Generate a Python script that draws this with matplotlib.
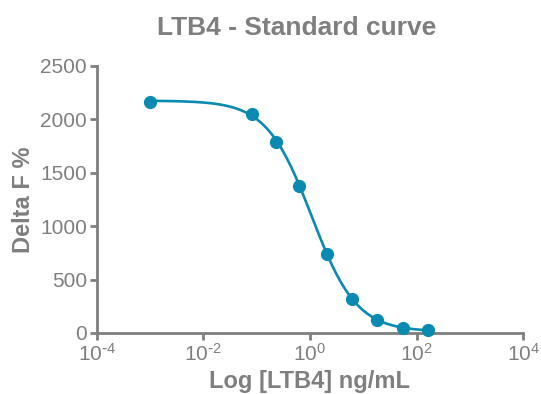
import numpy as np
import matplotlib
matplotlib.use("Agg")
import matplotlib.pyplot as plt

plt.rcParams['font.family'] = ['Liberation Sans', 'DejaVu Sans']
plt.rcParams['mathtext.default'] = 'regular'
plt.rcParams['axes.unicode_minus'] = False

# concentrations (ng/mL) and signal
conc = [0.001, 0.083, 0.234, 0.63, 2.1, 6.2, 18, 56, 165]
delta_f = [2165, 2050, 1790, 1380, 740, 318, 122, 47, 28]
xtick_exp = [-4, -2, 0, 2, 4]
yticks = [0, 500, 1000, 1500, 2000, 2500]

teal = '#0b8ab1'
grey = '#7f7f7f'

# 4-parameter logistic fit (simple Levenberg-Marquardt in numpy)
xd = np.log10(np.array(conc, dtype=float))
yd = np.array(delta_f, dtype=float)


def model(p, lx):
    top, bot, lec, h = p
    return bot + (top - bot) / (1 + 10 ** (h * (lx - lec)))


p = np.array([yd.max(), yd.min(), 0.0, 1.0])
lam = 1e-2
for _ in range(500):
    r = yd - model(p, xd)
    J = np.zeros((len(xd), 4))
    for k in range(4):
        dp = np.zeros(4)
        dp[k] = 1e-6 * max(1.0, abs(p[k]))
        J[:, k] = (model(p + dp, xd) - model(p, xd)) / dp[k]
    A = J.T @ J
    step = np.linalg.solve(A + lam * np.diag(np.diag(A)), J.T @ r)
    pn = p + step
    if np.sum((yd - model(pn, xd)) ** 2) < np.sum(r ** 2):
        p = pn
        lam *= 0.5
    else:
        lam *= 4

lx = np.linspace(xd.min(), xd.max(), 300)
fit = model(p, lx)

fig = plt.figure(figsize=(5.41, 3.94), dpi=100)
ax = fig.add_axes([0.179, 0.155, 0.788, 0.6775])

ax.plot(10 ** lx, fit, color=teal, lw=1.9, zorder=2)
ax.plot(conc, delta_f, 'o', color=teal, ms=8.5, zorder=3, clip_on=False)

ax.set_xscale('log')
ax.set_xlim(1e-4, 1e4)
ax.set_ylim(0, 2500)
ax.set_xticks([10.0 ** e for e in xtick_exp])


def sup_label(e):
    if e < 0:
        return r'$\mathregular{10^{\text{-}%d}}$' % (-e)
    return r'$\mathregular{10^{%d}}$' % e


ax.set_xticklabels([sup_label(e) for e in xtick_exp])
ax.minorticks_off()
ax.set_yticks(yticks)

for s in ['top', 'right']:
    ax.spines[s].set_visible(False)
for s in ['left', 'bottom']:
    ax.spines[s].set_color(grey)
    ax.spines[s].set_linewidth(2.0)

ax.tick_params(axis='both', direction='out', length=5, width=2.0,
               color=grey, labelcolor=grey, labelsize=15, pad=2)

fig.text(0.549, 0.93, 'LTB4 - Standard curve', fontsize=19,
         fontweight='bold', color=grey, ha='center', va='center')
ax.set_xlabel('Log [LTB4] ng/mL', fontsize=17, fontweight='bold',
              color=grey, labelpad=4)
ax.set_ylabel('Delta F %', fontsize=17, fontweight='bold',
              color=grey, labelpad=4)

fig.savefig('out.png', dpi=100)
